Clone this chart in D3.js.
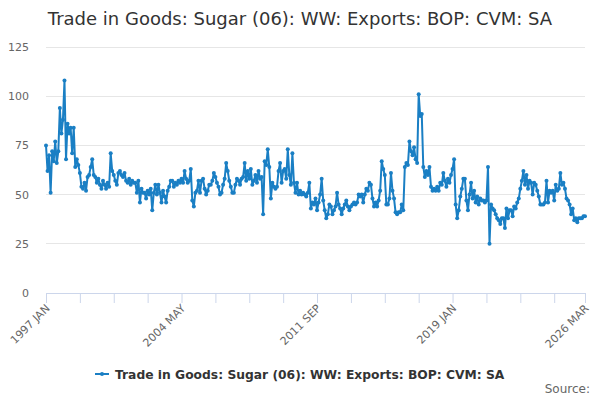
<!DOCTYPE html>
<html><head><meta charset="utf-8">
<script src="https://cdn.jsdelivr.net/npm/d3@7"></script>
<style>body{margin:0;background:#fff;}svg{display:block;font-family:"DejaVu Sans",sans-serif;}</style>
</head><body><svg id="c" width="600" height="400"></svg>
<script>
const title = "Trade in Goods: Sugar (06): WW: Exports: BOP: CVM: SA";
const seriesName = "Trade in Goods: Sugar (06): WW: Exports: BOP: CVM: SA";
const startYear = 1997;
const monthNames = ["JAN","FEB","MAR","APR","MAY","JUN","JUL","AUG","SEP","OCT","NOV","DEC"];
const yTicks = [0,25,50,75,100,125];
const labelIdx = [0,88,176,264,350];
const values = [
 75,62,70,51,72,67,77,66,72,94,81,88,
 108,68,86,81,84,71,84,64,68,65,61,54,
 53,56,52,59,60,64,68,60,59,56,58,55,
 53,57,55,53,56,54,71,62,60,57,55,61,
 62,60,59,61,57,56,58,55,57,56,56,51,
 57,46,53,51,51,48,52,50,53,42,51,55,
 50,55,51,46,52,49,46,52,54,57,57,54,
 56,55,57,56,58,56,62,58,56,57,63,47,
 44,51,52,57,51,57,58,53,50,52,55,55,
 57,61,59,56,54,50,51,55,58,66,62,57,
 54,51,51,55,58,57,55,58,59,66,57,62,
 58,63,55,57,60,56,62,58,59,40,67,65,
 73,64,48,56,54,53,54,62,66,56,62,63,
 58,73,60,55,71,56,51,56,50,52,50,51,
 50,49,51,56,43,46,45,48,42,46,50,58,
 47,42,38,40,45,44,40,42,44,51,45,43,
 40,43,45,47,44,42,44,45,46,45,46,50,
 49,50,46,50,53,52,56,55,48,44,46,44,
 47,52,67,63,60,45,45,48,61,52,48,41,
 40,41,41,45,42,64,66,65,77,72,70,74,
 68,66,101,90,91,64,59,62,60,64,54,52,
 53,52,54,52,56,55,61,57,54,58,56,60,
 63,68,45,38,42,49,53,58,58,47,42,50,
 56,48,52,46,49,45,48,47,47,46,47,64,
 25,45,43,42,40,38,37,35,38,38,33,43,
 38,42,42,39,44,43,46,48,53,57,62,55,
 60,53,57,56,50,56,55,52,49,45,45,45,
 46,57,46,52,51,52,47,55,52,53,61,55,
 56,53,48,47,45,40,43,37,38,36,38,38,
 38,39,39
];
const labels = values.map((v,i)=> (startYear+Math.floor(i/12))+" "+monthNames[i%12]);
const data = values.map((v,i)=>({i, v, label: labels[i]}));

const svg = d3.select("#c");
const color = "#1a7fc4";
const x = d3.scaleLinear().domain([0, values.length-1]).range([46, 585]);
const y = d3.scaleLinear().domain([0,125]).range([293, 47]);

svg.append("text").attr("x",300).attr("y",25).attr("text-anchor","middle")
  .attr("font-size",18).attr("fill","#333").text(title);

// grid
svg.append("g").selectAll("line").data(yTicks.filter(t=>t>0)).join("line")
  .attr("x1",46).attr("x2",585).attr("y1",d=>y(d)).attr("y2",d=>y(d))
  .attr("stroke","#e6e6e6").attr("stroke-width",1).attr("shape-rendering","crispEdges");
svg.append("g").selectAll("text").data(yTicks).join("text")
  .attr("x",29).attr("y",d=>y(d)+4).attr("text-anchor","end")
  .attr("font-size",11).attr("fill","#666").text(d=>d);

// x axis
const tickIdx = d3.range(0, values.length, 22).concat([values.length-1]);
const xAxis = d3.axisBottom(x).tickValues(tickIdx).tickSize(10)
  .tickFormat(d=> labelIdx.includes(d) ? labels[d] : "");
const gx = svg.append("g").attr("transform","translate(0,293)").call(xAxis);
gx.select(".domain").attr("stroke","#ccd6eb");
gx.selectAll(".tick line").attr("stroke","#ccd6eb");
gx.selectAll(".tick text").attr("font-size",11).attr("fill","#666")
  .attr("font-family","DejaVu Sans, sans-serif")
  .attr("text-anchor","end").attr("dy",0).attr("y",0)
  .attr("transform","translate(4,16) rotate(-45)");

// line
const line = d3.line().x(d=>x(d.i)).y(d=>y(d.v));
svg.append("path").datum(data).attr("d",line).attr("fill","none")
  .attr("stroke",color).attr("stroke-width",2).attr("stroke-linejoin","round");
svg.append("g").selectAll("circle").data(data).join("circle")
  .attr("cx",d=>x(d.i)).attr("cy",d=>y(d.v)).attr("r",2).attr("fill",color);

// legend
const lg = svg.append("g").attr("transform","translate(0,374)");
lg.append("line").attr("x1",95).attr("x2",109).attr("y1",0).attr("y2",0).attr("stroke",color).attr("stroke-width",2);
lg.append("circle").attr("cx",102).attr("cy",0).attr("r",2).attr("fill",color);
lg.append("text").attr("x",115).attr("y",4.5).attr("font-size",12.3).attr("font-weight","bold")
  .attr("fill","#333").text(seriesName);

svg.append("text").attr("x",590).attr("y",393).attr("text-anchor","end")
  .attr("font-size",12).attr("fill","#666").text("Source:");
</script></body></html>
